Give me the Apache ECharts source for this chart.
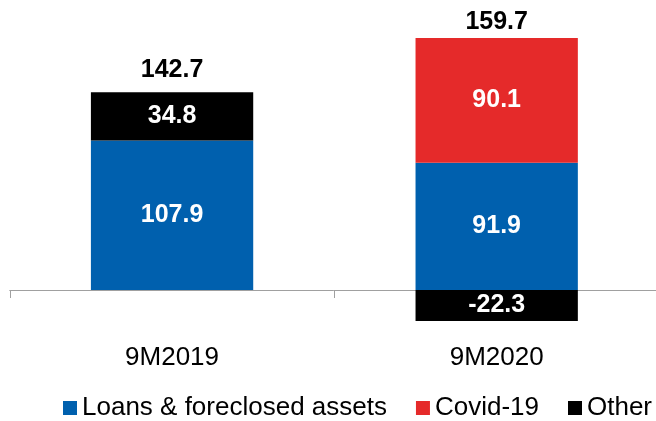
<!DOCTYPE html>
<html>
<head>
<meta charset="utf-8">
<script src="https://cdn.jsdelivr.net/npm/echarts@6/dist/echarts.min.js"></script>
<style>
    html, body { margin: 0; padding: 0; background: #fff; }
    #chart { width: 656px; height: 421px; }
</style>
</head>
<body>
<div id="chart"></div>
<script>
// categories and values
var categories = ['9M2019', '9M2020'];
var loans = [107.9, 91.9];
var covid = ['-', 90.1];
var other = [34.8, -22.3];
var totals = [142.7, 159.7];

var FONT = '"Liberation Sans", Arial, sans-serif';

// top of the positive part of each stack, where the total sits
function posTop(i) {
    var s = 0;
    [loans, covid, other].forEach(function (arr) {
        var v = arr[i];
        if (typeof v === 'number' && v > 0) s += v;
    });
    return s;
}

var totalGap = [10, 3];  // label spacing above each stack
var totalData = [];
for (var i = 0; i < categories.length; i++) {
    totalData.push({
        value: posTop(i),
        total: totals[i],
        label: { distance: totalGap[i] }
    });
}

var innerLabel = {
    show: true,
    position: 'inside',
    color: '#fff',
    fontWeight: 'bold',
    fontSize: 25,
    fontFamily: FONT
};

function barSeries(name, data, color) {
    return {
        name: name,
        type: 'bar',
        stack: 'all',
        barWidth: '50%',
        data: data,
        itemStyle: { color: color },
        label: innerLabel,
        emphasis: { disabled: true }
    };
}

var myChart = echarts.init(document.getElementById('chart'));
myChart.setOption({
    animation: false,
    grid: { left: 9.75, right: -3, top: 13, bottom: 61.75, outerBoundsMode: 'none', containLabel: false },
    legend: {
        left: 63,
        top: 395,
        padding: 0,
        itemGap: 29,
        itemWidth: 14,
        itemHeight: 14,
        icon: 'rect',
        textStyle: { fontSize: 26, color: '#000', fontFamily: FONT },
        data: ['Loans & foreclosed assets', 'Covid-19', 'Other']
    },
    xAxis: {
        type: 'category',
        data: categories,
        axisLine: { onZero: true, lineStyle: { color: '#a0a0a0', width: 1 } },
        axisTick: { show: true, length: 8, lineStyle: { color: '#a0a0a0' } },
        axisLabel: { margin: -14, fontSize: 26, color: '#000', fontFamily: FONT }
    },
    yAxis: {
        type: 'value',
        min: -50,
        max: 200,
        show: false,
        splitLine: { show: false }
    },
    series: [
        barSeries('Loans & foreclosed assets', loans, '#0060ae'),
        barSeries('Covid-19', covid, '#e52a2a'),
        barSeries('Other', other, '#000000'),
        {
            name: 'total',
            type: 'scatter',
            symbolSize: 0,
            data: totalData,
            silent: true,
            itemStyle: { opacity: 1 },
            label: {
                show: true,
                position: 'top',
                color: '#000',
                fontWeight: 'bold',
                fontSize: 25,
                fontFamily: FONT,
                formatter: function (p) { return p.data.total.toFixed(1); }
            }
        }
    ]
});
</script>
</body>
</html>
